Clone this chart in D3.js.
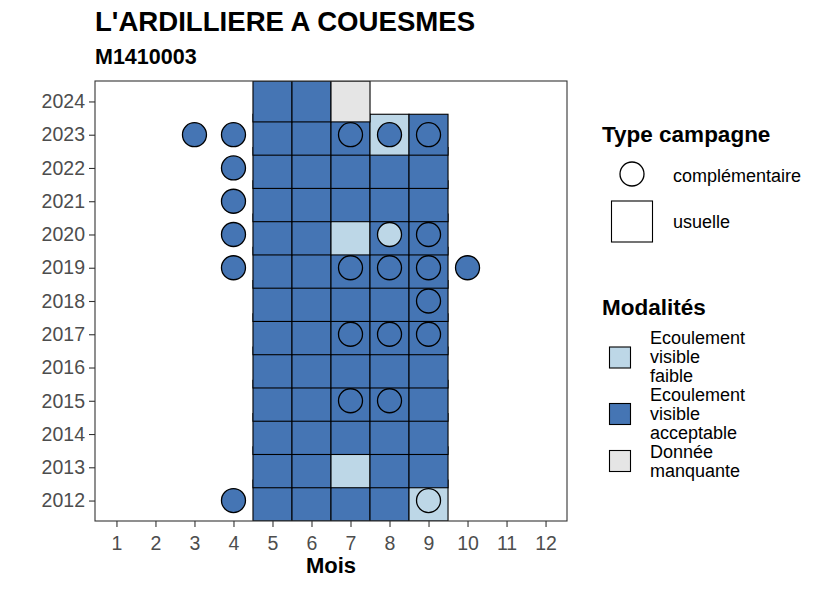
<!DOCTYPE html>
<html>
<head>
<meta charset="utf-8">
<script src="https://cdn.jsdelivr.net/npm/d3@7"></script>
<style>
  body { margin: 0; background: #fff; }
  text { font-family: "Liberation Sans", Arial, sans-serif; }
</style>
</head>
<body>
<svg id="chart" width="826" height="590"></svg>
<script>
// --- data ---
const titre = "L'ARDILLIERE A COUESMES";
const sousTitre = "M1410003";
const annees = [2012, 2013, 2014, 2015, 2016, 2017, 2018, 2019, 2020, 2021, 2022, 2023, 2024];
const mois = [1, 2, 3, 4, 5, 6, 7, 8, 9, 10, 11, 12];
const modalites = ["Ecoulement visible faible", "Ecoulement visible acceptable", "Donnée manquante"];
const codes = ["F", "A", "M"];
const couleurs = ["#bdd7e7", "#4575b4", "#e5e5e5"];

// campagnes usuelles : one row per year, months 5..9
const moisUsuels = [5, 6, 7, 8, 9];
const usuelles = [
  ["A", "A", "A", "A", "F"],  // 2012
  ["A", "A", "F", "A", "A"],  // 2013
  ["A", "A", "A", "A", "A"],  // 2014
  ["A", "A", "A", "A", "A"],  // 2015
  ["A", "A", "A", "A", "A"],  // 2016
  ["A", "A", "A", "A", "A"],  // 2017
  ["A", "A", "A", "A", "A"],  // 2018
  ["A", "A", "A", "A", "A"],  // 2019
  ["A", "A", "F", "A", "A"],  // 2020
  ["A", "A", "A", "A", "A"],  // 2021
  ["A", "A", "A", "A", "A"],  // 2022
  ["A", "A", "A", "F", "A"],  // 2023
  ["A", "A", "M", null, null] // 2024
];

// campagnes complementaires : [annee, mois, modalite]
const complementaires = [
  [2012, 4, "A"], [2012, 9, "F"],
  [2015, 7, "A"], [2015, 8, "A"],
  [2017, 7, "A"], [2017, 8, "A"], [2017, 9, "A"],
  [2018, 9, "A"],
  [2019, 4, "A"], [2019, 7, "A"], [2019, 8, "A"], [2019, 9, "A"], [2019, 10, "A"],
  [2020, 4, "A"], [2020, 8, "F"], [2020, 9, "A"],
  [2021, 4, "A"],
  [2022, 4, "A"],
  [2023, 3, "A"], [2023, 4, "A"], [2023, 7, "A"], [2023, 8, "A"], [2023, 9, "A"]
];

// --- layout ---
const panel = { left: 95, right: 567, top: 81, bottom: 521 };
const demiHauteur = 0.615; // tiles are a bit taller than one year and overlap
const svg = d3.select('#chart');

const x = d3.scaleLinear().domain([0.45, 12.55]).range([panel.left, panel.right]);
const y = d3.scaleLinear()
  .domain([annees[0] - demiHauteur, annees[annees.length - 1] + demiHauteur])
  .range([panel.bottom, panel.top]);
const color = d3.scaleOrdinal().domain(codes).range(couleurs);

// flatten usual campaigns, ascending years so later years overlay earlier ones
let tuiles = [];
usuelles.forEach(function (row, i) {
  row.forEach(function (code, j) {
    if (code) tuiles.push({ annee: annees[i], mois: moisUsuels[j], code: code });
  });
});

svg.append('defs').append('clipPath').attr('id', 'clip')
  .append('rect')
  .attr('x', panel.left).attr('y', panel.top)
  .attr('width', panel.right - panel.left).attr('height', panel.bottom - panel.top);

svg.append('rect')
  .attr('x', panel.left).attr('y', panel.top)
  .attr('width', panel.right - panel.left).attr('height', panel.bottom - panel.top)
  .attr('fill', '#fff');

let plot = svg.append('g').attr('clip-path', 'url(#clip)');

plot.selectAll('.tuile').data(tuiles).enter().append('rect')
  .attr('class', 'tuile')
  .attr('x', function (d) { return x(d.mois - 0.5); })
  .attr('width', function (d) { return x(d.mois + 0.5) - x(d.mois - 0.5); })
  .attr('y', function (d) { return y(d.annee + demiHauteur); })
  .attr('height', function (d) { return y(d.annee - demiHauteur) - y(d.annee + demiHauteur); })
  .attr('fill', function (d) { return color(d.code); })
  .attr('stroke', '#000')
  .attr('stroke-width', 1.1);

plot.selectAll('.point').data(complementaires).enter().append('circle')
  .attr('class', 'point')
  .attr('cx', function (d) { return x(d[1]); })
  .attr('cy', function (d) { return y(d[0]); })
  .attr('r', 12)
  .attr('fill', function (d) { return color(d[2]); })
  .attr('stroke', '#000')
  .attr('stroke-width', 1.3);

// panel border
svg.append('rect')
  .attr('x', panel.left).attr('y', panel.top)
  .attr('width', panel.right - panel.left).attr('height', panel.bottom - panel.top)
  .attr('fill', 'none').attr('stroke', '#333').attr('stroke-width', 1.1);

// axes
let xAxis = svg.append('g')
  .attr('transform', 'translate(0,' + panel.bottom + ')')
  .call(d3.axisBottom(x).tickValues(mois).tickFormat(d3.format('d')).tickSize(6).tickPadding(4));
let yAxis = svg.append('g')
  .attr('transform', 'translate(' + panel.left + ',0)')
  .call(d3.axisLeft(y).tickValues(annees).tickFormat(d3.format('d')).tickSize(6).tickPadding(4));

[xAxis, yAxis].forEach(function (a) {
  a.select('.domain').remove();
  a.selectAll('.tick line').attr('stroke', '#333').attr('stroke-width', 1.1);
  a.selectAll('.tick text')
    .attr('fill', '#4d4d4d')
    .style('font-size', '19.5px')
    .style('font-family', '"Liberation Sans", Arial, sans-serif');
});
xAxis.selectAll('.tick text').attr('dy', '0.95em');

// titles
svg.append('text').attr('x', 95).attr('y', 31)
  .style('font-size', '27.6px').style('font-weight', 'bold').text(titre);
svg.append('text').attr('x', 95).attr('y', 64)
  .style('font-size', '21.5px').style('font-weight', 'bold').text(sousTitre);
svg.append('text').attr('x', (panel.left + panel.right) / 2).attr('y', 573)
  .attr('text-anchor', 'middle')
  .style('font-size', '22px').style('font-weight', 'bold').text('Mois');

// legend : type campagne
let leg1 = svg.append('g');
leg1.append('text').attr('x', 602).attr('y', 141.5)
  .style('font-size', '22.5px').style('font-weight', 'bold').text('Type campagne');
leg1.append('circle').attr('cx', 632).attr('cy', 174).attr('r', 12)
  .attr('fill', '#fff').attr('stroke', '#000').attr('stroke-width', 1.3);
leg1.append('text').attr('x', 673).attr('y', 181.5).style('font-size', '18px').text('complémentaire');
leg1.append('rect').attr('x', 611.5).attr('y', 201).attr('width', 41).attr('height', 41)
  .attr('fill', '#fff').attr('stroke', '#000').attr('stroke-width', 1.1);
leg1.append('text').attr('x', 673).attr('y', 228).style('font-size', '18px').text('usuelle');

// legend : modalites
let leg2 = svg.append('g');
leg2.append('text').attr('x', 602).attr('y', 315)
  .style('font-size', '22.5px').style('font-weight', 'bold').text('Modalités');

const legendeLignes = [["Ecoulement", "visible", "faible"], ["Ecoulement", "visible", "acceptable"], ["Donnée", "manquante"]];
const legendeCarres = [347, 403.5, 450.5];
const legendeTextes = [344, 401, 457.5];
modalites.forEach(function (m, i) {
  leg2.append('rect').attr('x', 609.5).attr('y', legendeCarres[i]).attr('width', 21).attr('height', 21)
    .attr('fill', color(codes[i])).attr('stroke', '#000').attr('stroke-width', 1.1);
  let t = leg2.append('text').attr('x', 650).attr('y', legendeTextes[i]).style('font-size', '18px');
  legendeLignes[i].forEach(function (l, k) {
    t.append('tspan').attr('x', 650).attr('dy', k === 0 ? 0 : 19).text(l);
  });
});
</script>
</body>
</html>
